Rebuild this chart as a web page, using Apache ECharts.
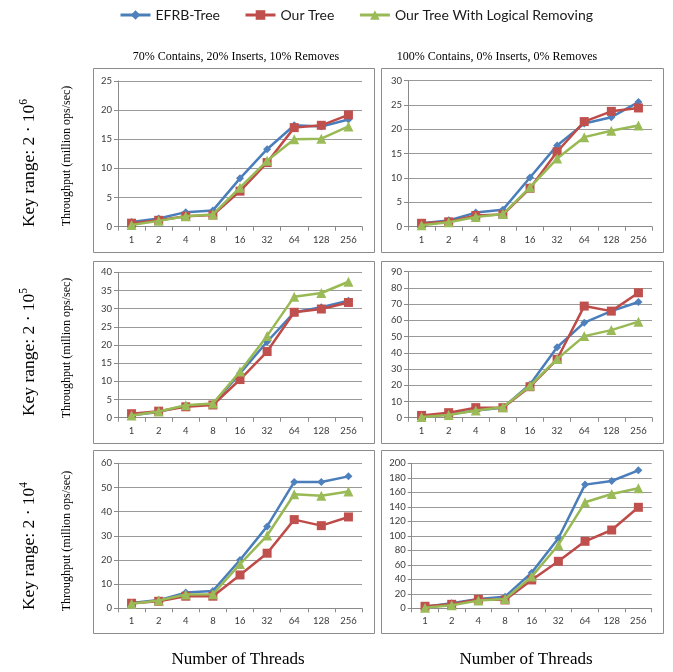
<!DOCTYPE html>
<html>
<head>
<meta charset="utf-8">
<script src="https://cdn.jsdelivr.net/npm/echarts@6/dist/echarts.min.js"></script>
<style>html,body{margin:0;padding:0;background:#fff;}#c{width:673px;height:672px;}</style>
</head>
<body>
<div id="c"></div>
<script>
const threads = ['1','2','4','8','16','32','64','128','256'];
const seriesNames = ['EFRB-Tree','Our Tree','Our Tree With Logical Removing'];
const colTitles = ['70% Contains, 20% Inserts, 10% Removes','100% Contains, 0% Inserts, 0% Removes'];
const rowExp = ['6','5','4'];
const yTitle = 'Throughput (million ops/sec)';
const xTitle = 'Number of Threads';

// Row 1: key range 2·10^6
const efrb1 = [0.8,1.4,2.5,2.8,8.3,13.3,17.4,17.2,18.4];
const our1  = [0.6,1.1,1.8,2.0,6.1,11.0,17.0,17.4,19.2];
const logic1= [0.3,1.0,1.8,2.1,6.7,11.3,15.0,15.1,17.2];
const efrb2 = [0.7,1.3,2.9,3.5,10.1,16.7,21.2,22.5,25.6];
const our2  = [0.7,1.0,2.3,2.5,7.9,15.4,21.6,23.7,24.4];
const logic2= [0.3,0.9,2.0,2.6,8.1,14.0,18.4,19.7,20.8];
// Row 2: key range 2·10^5
const efrb3 = [0.7,1.6,3.3,3.8,12.2,20.9,29.0,30.4,32.2];
const our3  = [1.1,1.8,3.0,3.5,10.5,18.2,29.0,29.9,31.7];
const logic3= [0.6,1.7,3.4,3.9,12.7,22.5,33.3,34.3,37.4];
const efrb4 = [0.6,2.1,4.5,6.2,20.5,43.4,58.6,65.7,71.3];
const our4  = [1.4,3.1,6.2,6.2,19.1,36.0,68.8,65.7,77.0];
const logic4= [0.4,1.6,4.5,6.4,19.7,36.2,50.3,54.0,59.2];
// Row 3: key range 2·10^4
const efrb5 = [2.2,3.4,6.5,7.2,20.0,33.9,52.3,52.3,54.6];
const our5  = [2.1,2.9,5.0,5.0,13.8,22.8,36.7,34.2,37.8];
const logic5= [1.9,3.2,5.7,5.8,18.3,30.1,47.2,46.6,48.3];
const efrb6 = [2.3,6.9,12.9,16.1,49.2,96.6,170.6,175.6,190.3];
const our6  = [2.8,5.5,12.4,11.5,39.1,64.8,92.4,108.0,139.3];
const logic6= [0.9,4.1,10.6,12.9,43.7,87.4,146.2,157.7,165.5];

const yMax = [25,30,40,90,60,200];
const yInterval = [5,5,5,10,10,20];

const panelData = [
  [efrb1,our1,logic1],[efrb2,our2,logic2],
  [efrb3,our3,logic3],[efrb4,our4,logic4],
  [efrb5,our5,logic5],[efrb6,our6,logic6]
];

const grids = [
  {left:118, top:81,    width:244, height:145.7},
  {left:408, top:80.7,  width:244, height:146},
  {left:118, top:272.3, width:244, height:145.4},
  {left:408, top:271.7, width:244, height:146},
  {left:118, top:463.3, width:244, height:145},
  {left:411.7, top:463.3, width:240, height:145}
];
const panels = [
  [93,68,281,184],[381,68,282,184],
  [93,261,281,182],[381,261,282,182],
  [93,450,281,183],[381,450,282,183]
];

const lineColors = ['#4A7EBB','#BE4B48','#98B954'];
const fillColors = ['#4F81BD','#C0504D','#9BBB59'];
const symbols = ['diamond','rect','triangle'];
const symbolSizes = [8,9,10];

const xAxes = [], yAxes = [], series = [];
for (let i = 0; i < 6; i++) {
  xAxes.push({
    type:'category', gridIndex:i, data:threads, boundaryGap:true,
    axisLine:{lineStyle:{color:'#8a8a8a',width:1}},
    axisTick:{show:true,length:4,lineStyle:{color:'#8a8a8a'}},
    axisLabel:{fontFamily:'Lato',fontSize:9.5,color:'#3a3a3a',margin:8}
  });
  yAxes.push({
    type:'value', gridIndex:i, min:0, max:yMax[i], interval:yInterval[i],
    axisLine:{show:true,lineStyle:{color:'#8a8a8a',width:1}},
    axisTick:{show:true,length:4,lineStyle:{color:'#8a8a8a'}},
    axisLabel:{fontFamily:'Lato',fontSize:9.5,color:'#3a3a3a',margin:6},
    splitLine:{show:true,lineStyle:{color:'#9a9a9a',width:1}}
  });
  for (let s = 0; s < 3; s++) {
    series.push({
      type:'line', name:seriesNames[s], xAxisIndex:i, yAxisIndex:i,
      data:panelData[i][s], symbol:symbols[s], symbolSize:symbolSizes[s],
      lineStyle:{color:lineColors[s],width:2.5},
      itemStyle:{color:fillColors[s]},
      emphasis:{disabled:true}, animation:false, z:2+s
    });
  }
}

const graphics = [];
panels.forEach(p => graphics.push({
  type:'rect', shape:{x:p[0]+0.5,y:p[1]+0.5,width:p[2],height:p[3]},
  style:{fill:'none',stroke:'#8c8c8c',lineWidth:1}, silent:true, z:-1
}));
const colCenters = [236, 497];
colTitles.forEach((t,i)=>graphics.push({
  type:'text', x:colCenters[i], y:57,
  style:{text:t,font:'12px "Liberation Serif"',fill:'#000',align:'center',verticalAlign:'middle'}
}));
[238,526].forEach(cx=>graphics.push({
  type:'text', x:cx, y:660,
  style:{text:xTitle,font:'17px "Liberation Serif"',fill:'#000',align:'center',verticalAlign:'middle'}
}));
const rowKeyY = [163,352,546];
const rowThrY = [156,348,541];
for (let r=0;r<3;r++){
  graphics.push({
    type:'text', x:28, y:rowKeyY[r], rotation:Math.PI/2,
    style:{
      text:'{a|Key range: 2 · 10}{s|'+rowExp[r]+'}',
      align:'center', verticalAlign:'middle', fill:'#000',
      rich:{
        a:{fontFamily:'Liberation Serif',fontSize:17.5,fill:'#000',lineHeight:20,verticalAlign:'bottom'},
        s:{fontFamily:'Liberation Serif',fontSize:11.5,fill:'#000',lineHeight:20,verticalAlign:'top'}
      }
    }
  });
  graphics.push({
    type:'text', x:67, y:rowThrY[r], rotation:Math.PI/2,
    style:{text:yTitle,font:'12px "Liberation Serif"',fill:'#000',align:'center',verticalAlign:'middle'}
  });
}

const chart = echarts.init(document.getElementById('c'));
chart.setOption({
  animation:false,
  backgroundColor:'#fff',
  legend:{
    data:seriesNames, top:3, left:114, itemGap:24, itemWidth:30, itemHeight:12,
    lineStyle:{width:3},
    textStyle:{fontFamily:'Lato',fontSize:14,color:'#1a1a1a'}
  },
  grid:grids,
  xAxis:xAxes,
  yAxis:yAxes,
  series:series,
  graphic:graphics
});
</script>
</body>
</html>
